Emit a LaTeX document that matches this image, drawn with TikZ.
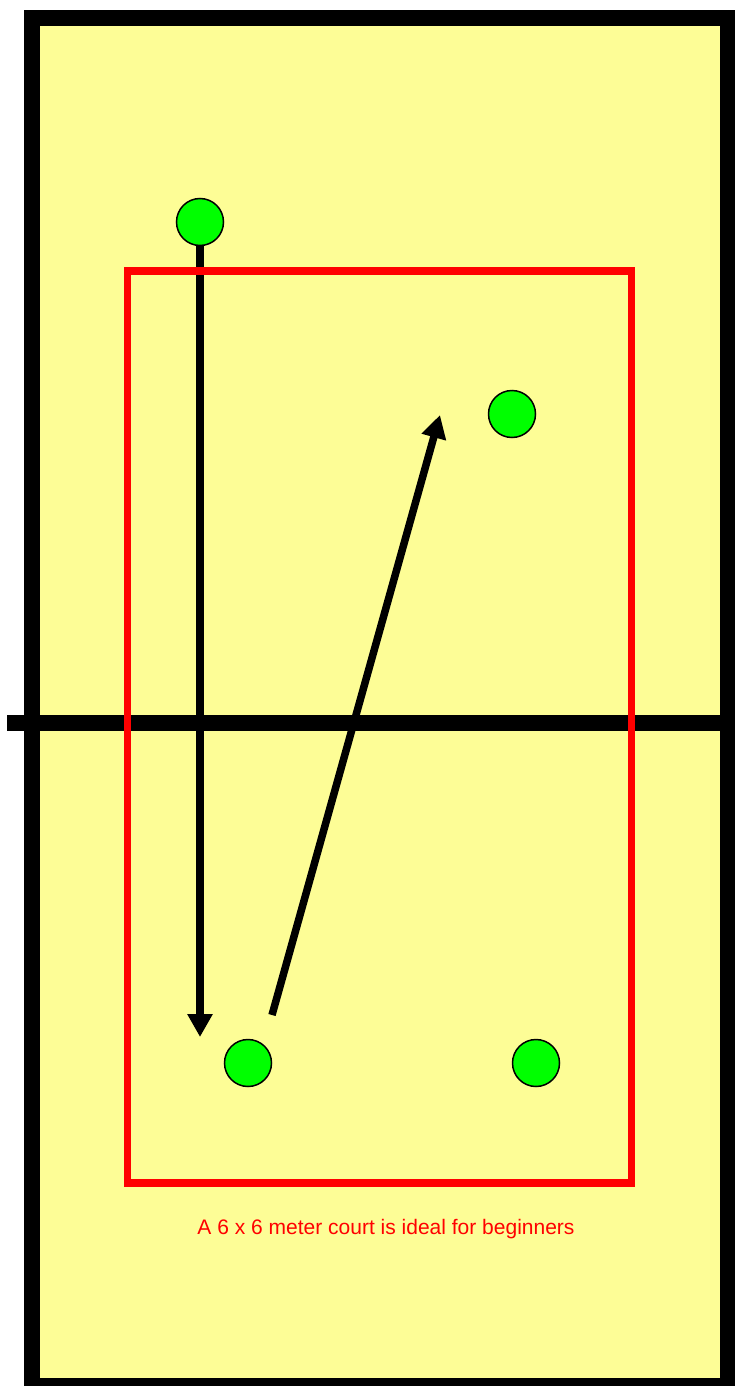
\documentclass[tikz,border=0pt]{standalone}
\usepackage{fontspec}
\setmainfont{Liberation Sans}
\usetikzlibrary{arrows.meta,positioning}
\definecolor{courtyellow}{HTML}{FDFD96}
\definecolor{playergreen}{HTML}{00FF00}
\definecolor{zonered}{HTML}{FF0000}

\begin{document}
\begin{tikzpicture}[x=1pt, y=-1pt, >={Triangle[length=23pt,width=24pt]},
  player/.style={circle, draw=black, line width=1.5pt, fill=playergreen, minimum size=47pt, inner sep=0pt},
  move/.style={->, line width=7.5pt}]
  \useasboundingbox (0,0) rectangle (735,1386);
  % court and net
  \draw[line width=16pt, fill=courtyellow] (32,18) rectangle (728,1386);
  \draw[line width=16pt] (7,723) -- (745,723);
  % players
  \node[player] (setter) at (200,222) {};
  \node[player] (farright) at (512,414) {};
  \node[player] (nearleft) at (248,1063) {};
  \node[player] (nearright) at (536,1063) {};
  % runs
  \coordinate (runend) at (200,1037);
  \coordinate (passstart) at (272,1015);
  \coordinate (passend) at (440,415);
  \draw[move] (setter.south) -- (runend);
  \draw[move] (passstart) -- (passend);
  % beginner court
  \draw[zonered, line width=7.5pt] (127.5,271) rectangle (631.5,1183);
  \node[text=zonered, font=\fontsize{21}{25}\selectfont] (caption) at (386,1229)
    {A 6 x 6 meter court is ideal for beginners};
\end{tikzpicture}
\end{document}
